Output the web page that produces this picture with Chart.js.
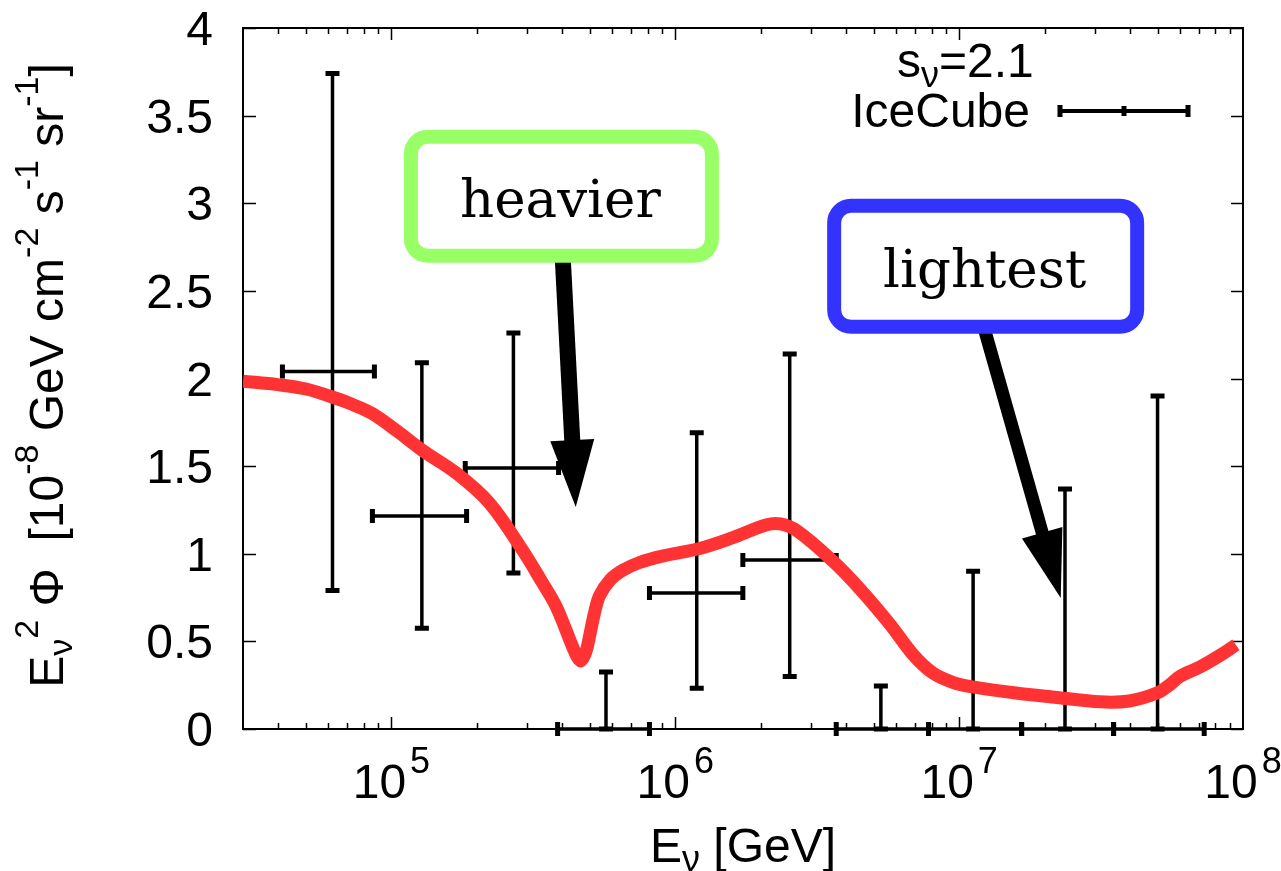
<!DOCTYPE html>
<html><head><meta charset="utf-8">
<script src="https://cdn.jsdelivr.net/npm/chart.js@4.4.1/dist/chart.umd.min.js"></script>
<style>html,body{margin:0;padding:0;background:#fff;} canvas{display:block;}</style>
</head><body>
<canvas id="c" width="1281" height="871"></canvas>
<script>
// ---------- data ----------
const modelEnergy = [3.0e4, 3.98e4, 5.01e4, 6.04e4, 7.08e4, 8.57e4, 1.047e5, 1.285e5, 1.694e5, 2.213e5, 2.897e5, 3.388e5, 3.802e5, 4.345e5, 4.519e5, 4.656e5, 4.842e5, 4.989e5, 5.188e5, 5.408e5, 5.888e5, 6.516e5, 7.482e5, 8.913e5, 1.219e6, 1.585e6, 2.099e6, 2.344e6, 2.692e6, 3.581e6, 4.467e6, 5.689e6, 6.918e6, 8.072e6, 9.55e6, 1.117e7, 1.585e7, 2.208e7, 3.133e7, 3.981e7, 4.977e7, 5.495e7, 5.998e7, 7.079e7, 8.492e7, 9.441e7];
const modelFlux   = [1.985, 1.965, 1.94, 1.90, 1.86, 1.80, 1.70, 1.59, 1.46, 1.29, 1.02, 0.84, 0.70, 0.47, 0.41, 0.39, 0.44, 0.53, 0.66, 0.76, 0.85, 0.905, 0.95, 0.985, 1.03, 1.09, 1.165, 1.17, 1.13, 0.96, 0.80, 0.60, 0.42, 0.32, 0.265, 0.24, 0.205, 0.18, 0.155, 0.16, 0.205, 0.25, 0.30, 0.355, 0.43, 0.48];

const iceEnergy     = [6.2e4, 1.28e5, 2.69e5, 5.7e5, 1.19e6, 2.53e6, 5.3e6, 1.12e7, 2.36e7, 5.0e7];
const iceFlux       = [2.04, 1.215, 1.49, 0, 0.776, 0.965, 0, 0, 0, 0];
const iceEnergyLow  = [4.13e4, 8.57e4, 1.82e5, 3.85e5, 8.11e5, 1.73e6, 3.69e6, 7.8e6, 1.66e7, 3.5e7];
const iceEnergyHigh = [8.71e4, 1.84e5, 3.88e5, 8.11e5, 1.73e6, 3.69e6, 7.8e6, 1.66e7, 3.5e7, 7.3e7];
const iceFluxLow    = [0.79, 0.575, 0.89, 0, 0.233, 0.30, 0, 0, 0, 0];
const iceFluxHigh   = [3.74, 2.09, 2.26, 0.325, 1.69, 2.14, 0.245, 0.90, 1.37, 1.90];

const yTickValues = [0, 0.5, 1, 1.5, 2, 2.5, 3, 3.5, 4];
const yTickLabels = ['0', '0.5', '1', '1.5', '2', '2.5', '3', '3.5', '4'];
const xTickValues = [1e5, 1e6, 1e7, 1e8];
const xTickBase = '10';
const xTickExponents = ['5', '6', '7', '8'];

const annotationLabels = ['heavier', 'lightest'];
const annotationBoxEnergy = [3.97e5, 1.24e7];
const annotationBoxFlux = [3.04, 2.64];
const arrowFromEnergy = [4.01e5, 1.23e7];
const arrowFromFlux = [2.70, 2.277];
const arrowToEnergy = [4.46e5, 2.28e7];
const arrowToFlux = [1.267, 0.747];

const legendTitle = [['s', 0], ['ν', 1], ['=2.1', 0]];
const legendLabel = 'IceCube';

// ---------- style ----------
const SANS = '"Liberation Sans", Arial, Helvetica, sans-serif';
const SERIF = '"DejaVu Serif", serif';
const RED = 'rgb(255,51,51)';
const annotationColors = ['rgb(153,255,102)', 'rgb(51,51,255)'];

function runsWidth(ctx, runs) {
  let w = 0;
  for (const r of runs) { ctx.font = r.size + 'px ' + SANS; w += ctx.measureText(r.t).width; }
  return w;
}
function drawRuns(ctx, runs, x0) {
  let x = x0;
  for (const r of runs) {
    ctx.font = r.size + 'px ' + SANS;
    ctx.fillText(r.t, x, r.dy);
    x += ctx.measureText(r.t).width;
  }
}

const frameTicks = {
  id: 'frameTicks',
  beforeDatasetsDraw(chart) {
    const ctx = chart.ctx, a = chart.chartArea, xs = chart.scales.x, ys = chart.scales.y;
    ctx.save();
    ctx.strokeStyle = '#000';
    ctx.lineWidth = 2;
    ctx.strokeRect(a.left, a.top, a.right - a.left, a.bottom - a.top);
    ctx.lineWidth = 1.5;
    ctx.beginPath();
    for (const v of yTickValues) {
      const p = Math.round(ys.getPixelForValue(v)) + 0.5;
      ctx.moveTo(a.left, p); ctx.lineTo(a.left + 13, p);
      ctx.moveTo(a.right, p); ctx.lineTo(a.right - 12, p);
    }
    for (let e = 4; e <= 8; e++) {
      for (let k = 1; k <= 9; k++) {
        const v = k * Math.pow(10, e);
        if (v < xs.min * 1.0001 || v > xs.max * 0.9999) continue;
        const p = Math.round(xs.getPixelForValue(v)) + 0.5;
        const len = k === 1 ? 12 : 6;
        ctx.moveTo(p, a.bottom); ctx.lineTo(p, a.bottom - len);
        ctx.moveTo(p, a.top); ctx.lineTo(p, a.top + len);
      }
    }
    ctx.stroke();

    // IceCube error bars
    ctx.strokeStyle = '#000';
    for (let i = 0; i < iceEnergy.length; i++) {
      const px = xs.getPixelForValue(iceEnergy[i]);
      const py = ys.getPixelForValue(iceFlux[i]);
      const x1 = xs.getPixelForValue(iceEnergyLow[i]);
      const x2 = xs.getPixelForValue(iceEnergyHigh[i]);
      const y1 = ys.getPixelForValue(iceFluxLow[i]);
      const y2 = ys.getPixelForValue(iceFluxHigh[i]);
      ctx.lineWidth = 3.5;
      ctx.beginPath();
      ctx.moveTo(x1, py); ctx.lineTo(x2, py);
      ctx.moveTo(px, y1); ctx.lineTo(px, y2);
      ctx.stroke();
      ctx.lineWidth = 5;
      ctx.beginPath();
      ctx.moveTo(px - 7, y1); ctx.lineTo(px + 7, y1);
      ctx.moveTo(px - 7, y2); ctx.lineTo(px + 7, y2);
      ctx.moveTo(x1, py - 7); ctx.lineTo(x1, py + 7);
      ctx.moveTo(x2, py - 7); ctx.lineTo(x2, py + 7);
      ctx.stroke();
    }

    // legend sample
    const lx1 = a.right - 183, lx2 = a.right - 55, lxm = (lx1 + lx2) / 2, ly = a.top + 83;
    ctx.lineWidth = 4;
    ctx.beginPath(); ctx.moveTo(lx1, ly); ctx.lineTo(lx2, ly); ctx.stroke();
    ctx.lineWidth = 5;
    ctx.beginPath();
    ctx.moveTo(lx1, ly - 6); ctx.lineTo(lx1, ly + 6);
    ctx.moveTo(lx2, ly - 6); ctx.lineTo(lx2, ly + 6);
    ctx.moveTo(lxm, ly - 5); ctx.lineTo(lxm, ly + 5);
    ctx.stroke();
    ctx.restore();
  },
  afterDatasetsDraw(chart) {
    const ctx = chart.ctx, xs = chart.scales.x, ys = chart.scales.y;
    ctx.save();
    const headLen = [67, 68], headW = [44, 42], shaftW = [16, 13];
    for (let i = 0; i < annotationLabels.length; i++) {
      const x0 = xs.getPixelForValue(arrowFromEnergy[i]), y0 = ys.getPixelForValue(arrowFromFlux[i]);
      const x1 = xs.getPixelForValue(arrowToEnergy[i]), y1 = ys.getPixelForValue(arrowToFlux[i]);
      const ang = Math.atan2(y1 - y0, x1 - x0);
      const c = Math.cos(ang), s = Math.sin(ang);
      const bx = x1 - headLen[i] * c, by = y1 - headLen[i] * s;
      ctx.strokeStyle = '#000'; ctx.fillStyle = '#000';
      ctx.lineWidth = shaftW[i]; ctx.lineCap = 'butt';
      ctx.beginPath(); ctx.moveTo(x0, y0); ctx.lineTo(bx + 2 * c, by + 2 * s); ctx.stroke();
      ctx.beginPath();
      ctx.moveTo(x1, y1);
      ctx.lineTo(bx - s * headW[i] / 2, by + c * headW[i] / 2);
      ctx.lineTo(bx + s * headW[i] / 2, by - c * headW[i] / 2);
      ctx.closePath(); ctx.fill();
    }
    const boxW = [301, 303], boxH = [119, 121];
    for (let i = 0; i < annotationLabels.length; i++) {
      const cx = xs.getPixelForValue(annotationBoxEnergy[i]), cy = ys.getPixelForValue(annotationBoxFlux[i]);
      ctx.beginPath();
      ctx.roundRect(cx - boxW[i] / 2, cy - boxH[i] / 2, boxW[i], boxH[i], 17);
      ctx.fillStyle = '#fff'; ctx.fill();
      ctx.lineWidth = 14; ctx.strokeStyle = annotationColors[i]; ctx.stroke();
      ctx.fillStyle = '#000';
      ctx.font = '53px ' + SERIF;
      ctx.textAlign = 'center'; ctx.textBaseline = 'alphabetic';
      ctx.fillText(annotationLabels[i], cx - 1, cy + 21);
    }
    ctx.restore();
  },
  afterDraw(chart) {
    const ctx = chart.ctx, a = chart.chartArea, xs = chart.scales.x, ys = chart.scales.y;
    ctx.save();
    ctx.fillStyle = '#000';
    ctx.textBaseline = 'alphabetic';
    // y tick labels
    ctx.textAlign = 'right';
    ctx.font = '48px ' + SANS;
    for (let i = 0; i < yTickValues.length; i++) {
      ctx.fillText(yTickLabels[i], a.left - 30, ys.getPixelForValue(yTickValues[i]) + 17);
    }
    ctx.textAlign = 'left';
    // x tick labels
    for (let i = 0; i < xTickValues.length; i++) {
      const p = xs.getPixelForValue(xTickValues[i]);
      const runs = [{t: xTickBase, size: 48, dy: 0}, {t: xTickExponents[i], size: 36, dy: -25}];
      const w = runsWidth(ctx, runs) + 4;
      ctx.save(); ctx.translate(p - w / 2, a.bottom + 69);
      ctx.font = '48px ' + SANS; ctx.fillText(xTickBase, 0, 0);
      const w0 = ctx.measureText(xTickBase).width + 4;
      ctx.font = '36px ' + SANS; ctx.fillText(xTickExponents[i], w0, -25);
      ctx.restore();
    }
    // x title
    const xt = [{t: 'E', size: 48, dy: 0}, {t: 'ν', size: 36, dy: 9}, {t: ' [GeV]', size: 48, dy: 0}];
    ctx.save(); ctx.translate((a.left + a.right) / 2, 862);
    drawRuns(ctx, xt, -runsWidth(ctx, xt) / 2);
    ctx.restore();
    // y title
    const yt = [
      {t: 'E', size: 48, dy: 0}, {t: 'ν', size: 34, dy: 9}, {t: '2', size: 34, dy: -25},
      {t: ' Φ  [10', size: 48, dy: 0}, {t: '-8', size: 34, dy: -25},
      {t: ' GeV cm', size: 48, dy: 0}, {t: '-2', size: 34, dy: -25},
      {t: ' s', size: 48, dy: 0}, {t: '-1', size: 34, dy: -25},
      {t: ' sr', size: 48, dy: 0}, {t: '-1', size: 34, dy: -25},
      {t: ']', size: 48, dy: 0}
    ];
    ctx.save(); ctx.translate(63, (a.top + a.bottom) / 2 - 3); ctx.rotate(-Math.PI / 2);
    drawRuns(ctx, yt, -runsWidth(ctx, yt) / 2);
    ctx.restore();
    // legend texts
    const lt = legendTitle.map(r => ({t: r[0], size: r[1] ? 36 : 48, dy: r[1] ? 10 : 0}));
    ctx.save(); ctx.translate(a.right - 346, a.top + 49);
    drawRuns(ctx, lt, 0);
    ctx.restore();
    ctx.font = '48px ' + SANS; ctx.textAlign = 'right';
    ctx.fillText(legendLabel, a.right - 213, a.top + 99);
    ctx.restore();
  }
};

const ctx = document.getElementById('c').getContext('2d');
new Chart(ctx, {
  type: 'line',
  data: {
    datasets: [
      {
        label: 'model',
        data: modelEnergy.map((e, i) => ({x: e, y: modelFlux[i]})),
        borderColor: RED, backgroundColor: RED, borderWidth: 13,
        pointRadius: 0, tension: 0.35, fill: false,
        borderCapStyle: 'butt', borderJoinStyle: 'round', order: 1
      },
      {
        label: legendLabel, type: 'scatter',
        data: iceEnergy.map((e, i) => ({x: e, y: iceFlux[i]})),
        pointRadius: 0, showLine: false, order: 2
      }
    ]
  },
  options: {
    responsive: false, animation: false, devicePixelRatio: 1,
    layout: {padding: {top: 28, right: 38, left: 0, bottom: 0}},
    plugins: {legend: {display: false}, tooltip: {enabled: false}, title: {display: false}},
    scales: {
      x: {
        type: 'logarithmic', min: 3e4, max: 1e8,
        ticks: {display: false}, grid: {display: false}, border: {display: false},
        afterFit(s) { s.height = 142; }
      },
      y: {
        type: 'linear', min: 0, max: 4,
        afterBuildTicks(s) { s.ticks = yTickValues.map(v => ({value: v})); },
        ticks: {display: false},
        grid: {display: false}, border: {display: false},
        afterFit(s) { s.width = 243; }
      }
    }
  },
  plugins: [frameTicks]
});
</script>
</body></html>
